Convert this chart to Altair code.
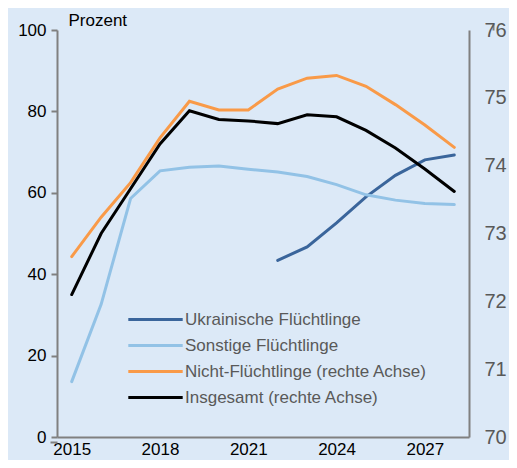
import altair as alt
import pandas as pd

years = list(range(2015, 2029))
names = ["Ukrainische Flüchtlinge", "Sonstige Flüchtlinge",
         "Nicht-Flüchtlinge (rechte Achse)", "Insgesamt (rechte Achse)"]
ukraine = [None, None, None, None, None, None, None, 43.4, 46.7, 52.6, 59.0, 64.3, 68.1, 69.3]
sonstige = [13.6, 32.6, 58.6, 65.4, 66.3, 66.6, 65.8, 65.1, 64.0, 62.0, 59.5, 58.2, 57.4, 57.1]
nicht = [72.66, 73.24, 73.75, 74.41, 74.95, 74.82, 74.82, 75.13, 75.29, 75.33, 75.17, 74.90, 74.60, 74.27]
gesamt = [72.10, 73.00, 73.66, 74.32, 74.81, 74.68, 74.66, 74.62, 74.75, 74.72, 74.52, 74.26, 73.95, 73.62]
colors = ["#3a659b", "#92c2e6", "#f99a48", "#000000"]
widths = [3, 3, 3, 5.5]

rows = []
for name, vals, ax in [(names[0], ukraine, "L"), (names[1], sonstige, "L"),
                       (names[2], nicht, "R"), (names[3], gesamt, "R")]:
    for y, v in zip(years, vals):
        if v is not None:
            rows.append({"year": y, "series": name, "value": v, "axis": ax})
df = pd.DataFrame(rows)

FONT = "Liberation Sans"
GRAY = "#808080"
W, H = 412, 407

x_scale = alt.Scale(domain=[2014.5, 2028.5], nice=False, zero=False)
color_enc = alt.Color("series:O", scale=alt.Scale(domain=names, range=colors), title=None)
sw_enc = alt.StrokeWidth("series:O", scale=alt.Scale(domain=names, range=widths), title=None)

base = alt.Chart(df)

left = base.transform_filter(alt.datum.axis == "L").mark_line(strokeCap="round").encode(
    x=alt.X("year:Q", scale=x_scale,
            axis=alt.Axis(values=[2015, 2018, 2021, 2024, 2027], format="d", ticks=False,
                          labelFontSize=17, labelColor="#000000", labelPadding=4, labelFont=FONT,
                          domainColor=GRAY, domainWidth=2, grid=False, title=None)),
    y=alt.Y("value:Q", scale=alt.Scale(domain=[0, 100], nice=False),
            axis=alt.Axis(values=[0, 20, 40, 60, 80, 100], tickSize=6, tickColor=GRAY, tickWidth=2,
                          domainColor=GRAY, domainWidth=2, labelFontSize=17, labelColor="#000000",
                          labelPadding=5, labelFont=FONT, grid=False,
                          title="Prozent", titleAngle=0, titleAlign="left", titleBaseline="alphabetic",
                          titleX=11, titleY=-5, titleFontSize=17, titleFontWeight="normal",
                          titleFont=FONT, titleColor="#000000")),
    color=color_enc,
    strokeWidth=sw_enc,
)

right = base.transform_filter(alt.datum.axis == "R").mark_line(strokeCap="round").encode(
    x=alt.X("year:Q", scale=x_scale,
            axis=alt.Axis(orient="top", position=H, values=[2015.5 + i for i in range(13)],
                          labels=False, domain=False, tickSize=6, tickColor=GRAY, tickWidth=2,
                          grid=False, title=None)),
    y=alt.Y("value:Q", scale=alt.Scale(domain=[70, 76], nice=False),
            axis=alt.Axis(orient="right", values=[70, 71, 72, 73, 74, 75, 76], ticks=False,
                          domainColor=GRAY, domainWidth=2, labelFontSize=20, labelColor="#595959",
                          labelPadding=15, labelFont=FONT, grid=False, title=None)),
    color=color_enc,
    strokeWidth=sw_enc,
)

ticks_r = base.transform_filter(alt.datum.axis == "R").mark_line(opacity=0).encode(
    x=alt.X("year:Q", scale=x_scale, axis=None),
    y=alt.Y("value:Q", scale=alt.Scale(domain=[70, 76], nice=False),
            axis=alt.Axis(orient="left", position=W, values=[70, 71, 72, 73, 74, 75, 76],
                          labels=False, domain=False, tickSize=7, tickColor=GRAY, tickWidth=2,
                          grid=False, title=None)),
)

chart = alt.layer(left, right, ticks_r).resolve_scale(y="independent").resolve_axis(
    x="independent", y="independent"
).properties(
    width=W, height=H,
    autosize=alt.AutoSizeParams(type="none"),
    padding={"left": 49, "top": 22, "right": 40, "bottom": 23},
    background="#dce9f7",
).configure_view(strokeWidth=0).configure_legend(
    orient="none", legendX=90, legendY=281, symbolType="M-4,0H4", symbolSize=185,
    labelFontSize=17, labelColor="#595959", labelFont=FONT, labelOffset=21, labelLimit=400,
    rowPadding=8, padding=0, symbolStrokeWidth=3,
)

chart.save("out.html", embed_options={"renderer": "svg", "actions": False})
